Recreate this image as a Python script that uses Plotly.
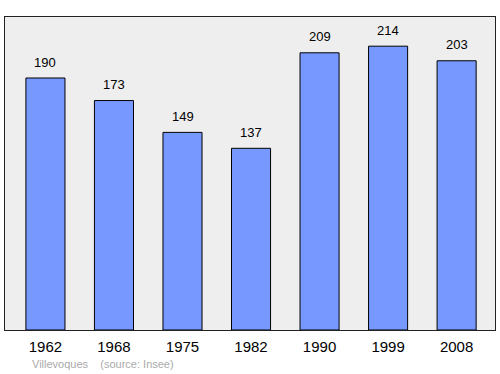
import plotly.graph_objects as go

years = ["1962", "1968", "1975", "1982", "1990", "1999", "2008"]
population = [190, 173, 149, 137, 209, 214, 203]
town = "Villevoques"
source = "(source: Insee)"

fig = go.Figure()
fig.add_trace(go.Bar(
    x=years, y=population,
    marker=dict(color="#7799ff", line=dict(color="#000000", width=1)),
    width=0.57,
    hoverinfo="skip",
))

for i, v in enumerate(population):
    fig.add_annotation(x=i, y=v, text=str(v), showarrow=False, yshift=16,
                       font=dict(size=13, color="#000000"))

fig.add_annotation(xref="paper", yref="paper", x=0.051, y=-0.11, xanchor="left",
                   yanchor="middle", showarrow=False,
                   text=town + "&nbsp;&nbsp;&nbsp;&nbsp;" + source,
                   font=dict(size=11, color="#aaaaaa"))

fig.update_layout(
    width=500, height=374,
    margin=dict(l=5, r=5, t=17, b=44),
    paper_bgcolor="white", plot_bgcolor="#eeeeee",
    font=dict(family="Liberation Sans, Arial, sans-serif", color="#000000"),
    showlegend=False,
    xaxis=dict(type="category", range=[-0.59, 6.56], showline=True, mirror=True,
               linecolor="#222222", linewidth=1, ticks="outside", ticklen=3,
               tickcolor="rgba(0,0,0,0)", showgrid=False,
               tickfont=dict(size=15), fixedrange=True),
    yaxis=dict(range=[0, 236], showline=True, mirror=True, linecolor="#222222",
               linewidth=1, showticklabels=False, ticks="", showgrid=False,
               zeroline=False, fixedrange=True),
)

fig.write_html("out.html")
